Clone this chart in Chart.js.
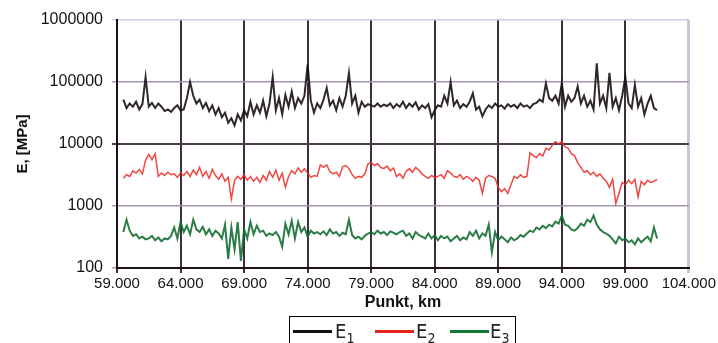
<!DOCTYPE html>
<html>
<head>
<meta charset="utf-8">
<script src="https://cdn.jsdelivr.net/npm/chart.js@4/dist/chart.umd.min.js"></script>
<style>
  html, body { margin: 0; padding: 0; background: #fff; }
  #wrap { position: relative; width: 718px; height: 343px; overflow: hidden; }
  #legend {
    position: absolute; left: 289px; top: 316px; width: 227px; height: 40px;
    border: 1px solid #000; box-sizing: border-box;
    font-family: "Liberation Sans Narrow", "DejaVu Sans Condensed", sans-serif;
    font-size: 20px; color: #222;
  }
  #legend .ln { position: absolute; top: 13px; width: 39px; height: 3px; }
  #legend .tx { position: absolute; top: 2px; line-height: 24px; white-space: nowrap; }
  #legend sub { font-size: 14px; vertical-align: -5px; }
</style>
</head>
<body>
<div id="wrap">
  <canvas id="c" width="718" height="343"></canvas>
  <div id="legend">
    <span class="ln" style="left:3px;background:#111"></span><span class="tx" style="left:45px">E<sub>1</sub></span>
    <span class="ln" style="left:85px;background:#e8201c"></span><span class="tx" style="left:126px">E<sub>2</sub></span>
    <span class="ln" style="left:160px;background:#137a35"></span><span class="tx" style="left:200px">E<sub>3</sub></span>
  </div>
</div>
<script>
// sampling grid along the road, km
const kmStart = 59.5;
const kmStep = 0.25;

const xTicks = [59, 64, 69, 74, 79, 84, 89, 94, 99, 104];
const yTicks = [100, 1000, 10000, 100000, 1000000];

// E1, MPa
const e1 = [
  52000, 38000, 45000, 40000, 48000, 36000, 44000, 120000,
  40000, 46000, 38000, 45000, 40000, 34000, 36000, 33000,
  38000, 42000, 35000, 36000, 55000, 100000, 60000, 45000,
  52000, 38000, 46000, 34000, 42000, 30000, 38000, 27000,
  32000, 22000, 26000, 20000, 30000, 24000, 35000, 28000,
  48000, 30000, 42000, 32000, 50000, 28000, 45000, 120000,
  35000, 55000, 30000, 62000, 40000, 70000, 38000, 55000,
  45000, 60000, 190000, 50000, 32000, 45000, 38000, 52000,
  80000, 42000, 50000, 35000, 55000, 40000, 60000, 140000,
  45000, 60000, 32000, 48000, 40000, 44000, 42000, 40000,
  45000, 40000, 43000, 41000, 45000, 38000, 44000, 40000,
  48000, 38000, 45000, 40000, 47000, 36000, 42000, 38000,
  44000, 27000, 35000, 42000, 40000, 60000, 45000, 100000,
  42000, 50000, 38000, 44000, 40000, 48000, 66000, 36000,
  40000, 28000, 36000, 42000, 38000, 45000, 40000, 42000,
  37000, 44000, 40000, 43000, 38000, 45000, 40000, 42000,
  38000, 44000, 46000, 52000, 48000, 95000, 55000, 50000,
  60000, 45000, 96000, 40000, 60000, 48000, 55000, 85000,
  45000, 60000, 40000, 50000, 36000, 200000, 45000, 60000,
  38000, 140000, 40000, 55000, 35000, 60000, 120000, 45000,
  38000, 90000, 40000, 55000, 30000, 45000, 60000, 38000,
  35000
];

// E2, MPa
const e2 = [
  2800, 3200, 3000, 3700, 3400, 3900, 3300, 5500,
  6800, 5600, 7000, 3000, 3400, 3100, 3500, 3200,
  3300, 2900, 3400, 3100, 3600, 3000, 3800, 3200,
  4200, 3000, 3600, 2800, 3900, 3100, 2700, 3300,
  2500, 2900, 1300, 2600, 3000, 2700, 3200, 2600,
  3000, 2500, 2900, 2400, 3100, 2600, 3600, 2900,
  3800, 2600, 3400, 2000, 3000, 3700, 3300, 4100,
  3500, 4000, 3400, 2900, 3100, 3000, 4600, 4200,
  4600, 3600, 3300, 3500, 3000, 4300, 4500, 4000,
  3200, 2800, 3000, 2900, 3300, 4800, 5000, 4500,
  4800, 4200, 4000, 4400, 3700, 4100, 3000, 3300,
  2800, 3600, 4000, 3500, 4200, 3800, 3300, 3000,
  2800, 3100, 2900, 3000, 3200, 2800, 3700, 3400,
  3000, 2900, 3200, 2700, 3000, 2800, 2500, 2900,
  2600, 1600, 2800, 3100, 3000, 2800, 2000, 1700,
  1900, 1600, 2200, 3000, 2800, 3200, 2900, 3000,
  7200, 6500, 6000, 7000, 6400, 8500, 8000, 9500,
  11000, 10000, 11000, 9000, 8500, 7000, 6500, 5000,
  4200, 3500, 3700, 3200, 3500, 3000, 3300, 2800,
  2500, 2000, 2700, 1100, 1600, 2400, 2200, 2600,
  2300, 2700, 1400, 2500, 2200, 2600, 2400, 2500,
  2700
];

// E3, MPa
const e3 = [
  380, 600, 400, 330, 350, 300, 320, 290,
  300, 330, 280, 310, 270, 300, 290, 330,
  450, 300, 550, 380, 480, 350, 600, 420,
  380, 460, 350, 420, 330, 400, 360, 300,
  500, 140, 450, 200, 550, 130, 420, 300,
  550, 350, 480, 380, 400, 330, 360, 340,
  380, 320, 220, 520, 350, 580, 300, 550,
  380, 450, 320, 400, 360, 380, 350, 390,
  340, 420, 360, 380, 330, 370, 350, 600,
  340, 300, 320, 290, 330, 360, 380, 350,
  400, 360, 380, 340, 390, 370, 350, 380,
  400, 330, 360, 300, 380, 340, 320, 300,
  360, 300, 340, 280, 330, 300, 320, 270,
  300, 330, 280, 310, 290, 380, 330, 400,
  300, 360, 330, 500, 180, 380, 280, 320,
  290, 260, 310, 280, 300, 340, 320, 360,
  400, 380, 450, 420, 480, 440, 500, 470,
  560, 520, 700, 500, 480, 420, 400, 440,
  520, 480, 600, 550, 700, 500, 420, 380,
  360, 330, 290, 250, 320, 280, 300, 260,
  280, 240, 300, 260, 290, 320, 270, 450,
  300
];

const toPoints = arr => arr.map((v, i) => ({ x: kmStart + i * kmStep, y: v }));

const series = (label, arr, color, width) => ({
  label: label,
  data: toPoints(arr),
  borderColor: color,
  borderWidth: width,
  pointRadius: 0,
  tension: 0,
  fill: false
});

const yGridColor = v => {
  if (v === 1000000) return '#d3cade';
  if (v === 10000) return '#4b3b4b';
  return '#a596ac';
};

new Chart(document.getElementById('c'), {
  type: 'line',
  data: {
    datasets: [
      series('E1', e1, 'rgba(25,15,20,0.9)', 2),
      series('E2', e2, 'rgba(235,40,35,0.85)', 1.5),
      series('E3', e3, 'rgba(20,110,50,0.9)', 2)
    ]
  },
  options: {
    responsive: false,
    animation: false,
    layout: { padding: { left: 0, right: 27, top: 20, bottom: 31 } },
    plugins: { legend: { display: false }, tooltip: { enabled: false } },
    scales: {
      x: {
        type: 'linear',
        min: 59,
        max: 104,
        afterBuildTicks: s => { s.ticks = xTicks.map(v => ({ value: v })); },
        afterFit: s => { s.height = 44; },
        ticks: {
          color: '#111',
          font: { family: 'Liberation Sans, Arial, sans-serif', size: 15 },
          padding: 2,
          maxRotation: 0,
          callback: v => v.toFixed(3)
        },
        grid: {
          color: c => c.tick && c.tick.value === 104 ? '#cdc4da' : '#3d2e3e',
          lineWidth: c => c.tick && c.tick.value === 104 ? 3 : 2,
          tickLength: 5,
          drawTicks: true
        },
        border: { color: '#1a1218', width: 2 },
        title: {
          display: true,
          text: 'Punkt, km',
          color: '#111',
          font: { family: 'Liberation Sans, Arial, sans-serif', size: 16, weight: 'bold' },
          padding: { top: 0, bottom: 0 }
        }
      },
      y: {
        type: 'logarithmic',
        min: 100,
        max: 1000000,
        afterBuildTicks: s => { s.ticks = yTicks.map(v => ({ value: v })); },
        afterFit: s => { s.width = 117; },
        ticks: {
          color: '#111',
          font: { family: 'Liberation Sans, Arial, sans-serif', size: 16 },
          padding: 9,
          callback: v => String(v)
        },
        grid: {
          color: c => c.tick ? yGridColor(c.tick.value) : '#a596ac',
          lineWidth: c => c.tick && c.tick.value === 10000 ? 2 : 1.5,
          tickLength: 5
        },
        border: { color: '#1a1218', width: 2 },
        title: {
          display: true,
          text: 'E, [MPa]',
          color: '#111',
          font: { family: 'Liberation Sans, Arial, sans-serif', size: 15, weight: 'bold' },
          padding: { top: 14 }
        }
      }
    }
  }
});
</script>
</body>
</html>
